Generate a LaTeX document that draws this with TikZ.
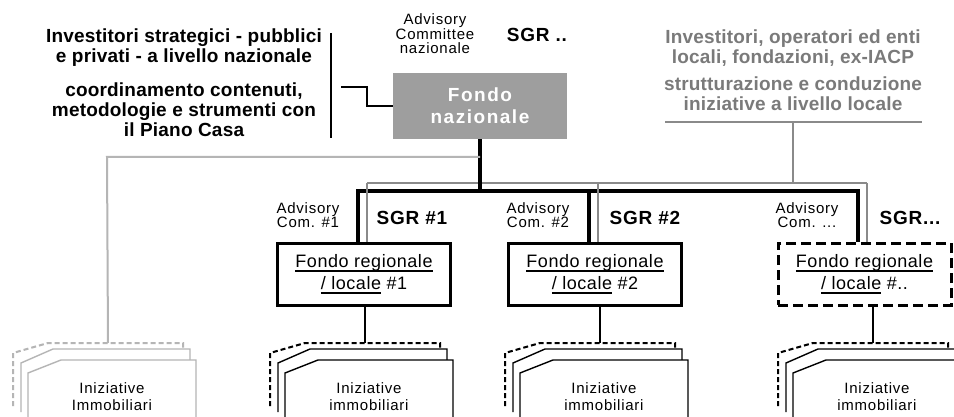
\documentclass[tikz,border=0pt]{standalone}
\usepackage{fontspec}
\setmainfont{Liberation Sans}
\definecolor{natgray}{HTML}{9E9E9E}
\definecolor{locgray}{HTML}{8A8A8A}
\definecolor{lightgray2}{HTML}{B5B5B5}
\definecolor{gtext}{HTML}{7A7A7A}

% underline at a fixed distance below the baseline
\newcommand\ulx[1]{\setbox0\hbox{#1}\copy0\llap{\rule[-4pt]{\wd0}{1.3pt}}}

% three stacked sheets with a cut corner; #1 left edge of the front sheet
\newcommand\stackat[4]{%
  \draw[#2, dash pattern=on 5pt off 3pt, line width=2pt, fill=white]
    ({#1-15},406) -- ({#1-15},353) -- ({#1+20},343) -- ({#1+155},343) -- ({#1+155},349);
  \draw[#2, line width=1.4pt, fill=white]
    ({#1-7},412) -- ({#1-7},363) -- ({#1+25},349) -- ({#1+162},349) -- ({#1+162},360);
  \draw[#2, line width=1.4pt, fill=white]
    (#1,425) -- (#1,373) -- ({#1+33},360) -- ({#1+168},360) -- ({#1+168},425);
  \node[stacktext] (#3) at ({#1+84},397) {#4};
  \coordinate (#3top) at ({#1+80},343);
}

\begin{document}
\begin{tikzpicture}[x=1pt,y=-1pt,
  boldtext/.style={align=center, inner sep=0pt,
    font=\fontsize{19}{20}\selectfont\bfseries\addfontfeature{LetterSpace=1}},
  smalltext/.style={align=center, inner sep=0pt,
    font=\fontsize{15}{14.5}\selectfont\addfontfeature{LetterSpace=5}},
  sgrtext/.style={inner sep=0pt,
    font=\fontsize{19}{20}\selectfont\bfseries\addfontfeature{LetterSpace=4}},
  stacktext/.style={align=center, inner sep=0pt,
    font=\fontsize{15}{17}\selectfont\addfontfeature{LetterSpace=5}},
  natbox/.style={fill=natgray, text=white, align=center, minimum width=174,
    minimum height=66, inner sep=0pt,
    font=\fontsize{19}{22}\selectfont\bfseries\addfontfeature{LetterSpace=8}},
  regbox/.style={draw=black, line width=3pt, fill=white, align=center,
    minimum width=173, minimum height=62, inner sep=0pt,
    font=\fontsize{18}{22}\selectfont\addfontfeature{LetterSpace=3}},
  natline/.style={black, line width=3.2pt},
  locline/.style={locgray, line width=2.5pt},
  lightline/.style={lightgray2, line width=2pt},
  thinline/.style={black, line width=1.5pt},
]
\useasboundingbox (0,0) rectangle (954,417);
\fill[white] (0,0) rectangle (954,417);
\clip (0,0) rectangle (954,417);

% national level
\node[boldtext] (invnaz) at (184,48)
  {Investitori strategici - pubblici\\e privati - a livello nazionale};
\node[boldtext] (coord) at (184,110)
  {coordinamento contenuti,\\metodologie e strumenti con\\il Piano Casa};
\coordinate (brtop) at (331,33);
\coordinate (brbot) at (331,138);
\draw[thinline] (brtop) -- (brbot);

\node[smalltext] (advnaz) at (435,34) {Advisory\\Committee\\nazionale};
\node[sgrtext] (sgrnaz) at (537,35) {SGR ..};
\node[natbox] (fn) at (480,106) {Fondo\\nazionale};
\coordinate (cstart) at (341,87);
\draw[thinline] (cstart) -- ++(26,0) |- (fn.west);

% local level
\node[boldtext, text=gtext] (invloc) at (793,48)
  {Investitori, operatori ed enti\\locali, fondazioni, ex-IACP};
\node[boldtext, text=gtext] (strut) at (793,94)
  {strutturazione e conduzione\\iniziative a livello locale};
\coordinate (invL) at (665,122);
\coordinate (invR) at (922,122);
\coordinate (invbus) at (793,122);
\draw[locline] (invL) -- (invR);

% regional funds
\node[regbox] (f1) at (364,274) {\ulx{Fondo regionale}\\\ulx{/ locale} \#1};
\node[regbox] (f2) at (595,274) {\ulx{Fondo regionale}\\\ulx{/ locale} \#2};
\node[regbox, dash pattern=on 10pt off 5pt] (f3) at (864.5,274)
  {\ulx{Fondo regionale}\\\ulx{/ locale} \#..};

\node[smalltext] (adv1) at (308,215) {Advisory\\Com. \#1};
\node[sgrtext] (sgr1) at (412,218) {SGR \#1};
\node[smalltext] (adv2) at (538,215) {Advisory\\Com. \#2};
\node[sgrtext] (sgr2) at (645,218) {SGR \#2};
\node[smalltext] (adv3) at (807,215) {Advisory\\Com. ...};
\node[sgrtext] (sgr3) at (910,218) {SGR...};

% funds' links
\coordinate (n1) at (358,191);
\coordinate (n2) at (589,191);
\coordinate (n3) at (858,191);
\coordinate (l1) at (367,183);
\coordinate (l2) at (598,183);
\coordinate (l3) at (867,183);
\coordinate (lg) at (107,157);

\draw[locline] (invbus) -- (invbus |- l1);
\draw[locline] (l1) -- (l3);
\draw[natline] (fn.south) -- (fn.south |- n1);
\draw[natline, line join=miter] (n1 |- f1.north) -- (n1) -- (n3) -- (n3 |- f3.north);
\draw[natline] (n2) -- (n2 |- f2.north);
\draw[locline] (l1) -- (l1 |- f1.north);
\draw[locline] (l2) -- (l2 |- f2.north);
\draw[locline] (l3) -- (l3 |- f3.north);

% real estate initiatives
\stackat{28}{lightgray2}{s0}{Iniziative\\Immobiliari}
\stackat{285}{black}{s1}{Iniziative\\immobiliari}
\stackat{520}{black}{s2}{Iniziative\\immobiliari}
\stackat{793}{black}{s3}{Iniziative\\immobiliari}

\draw[lightline] (fn.south |- lg) -- (lg) -- (s0top);
\draw[thinline] (s1top |- f1.south) -- (s1top);
\draw[thinline] (s2top |- f2.south) -- (s2top);
\draw[thinline] (s3top |- f3.south) -- (s3top);
\end{tikzpicture}
\end{document}
